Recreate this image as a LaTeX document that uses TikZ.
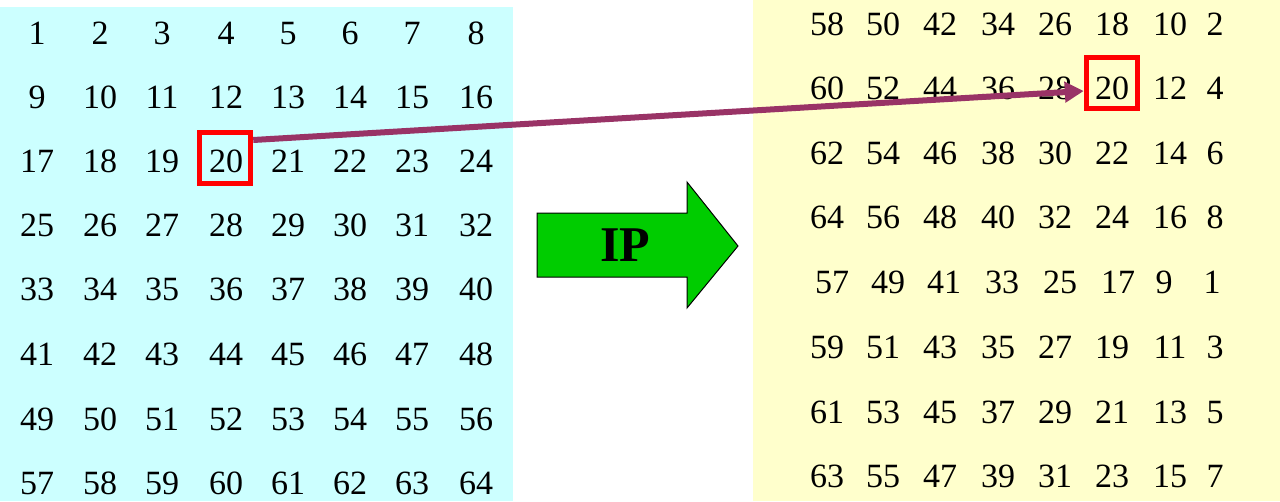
\documentclass[tikz,border=0pt]{standalone}
\usepackage{fontspec}
\setmainfont{Liberation Serif}
\usetikzlibrary{arrows.meta}
\definecolor{cyanbg}{HTML}{CCFFFF}
\definecolor{yellowbg}{HTML}{FFFFCC}
\definecolor{plum}{HTML}{993366}
\definecolor{ipgreen}{HTML}{00CC00}
\begin{document}
\begin{tikzpicture}[x=1pt,y=-1pt,
  num/.style={anchor=base,inner sep=0pt,font=\fontsize{34}{40}\selectfont},
  redbox/.style={draw=red,line width=5.5pt,minimum width=51pt,minimum height=51pt,inner sep=0pt},
  link/.style={draw=plum,line width=6pt,-{Triangle[length=19pt,width=20pt]}},
  blockarrow/.style={fill=ipgreen,draw=black,line width=1pt},
  iplabel/.style={inner sep=0pt,font=\fontsize{50}{60}\selectfont\bfseries}]
\useasboundingbox (0,0) rectangle (1280,501);
% panels
\fill[cyanbg] (0,7) rectangle (513,501);
\fill[yellowbg] (753,0) rectangle (1280,501);
% left grid
\def\lx{{37,100,162,226,288,350,412,476}}
\def\ly{{44,108,172,236,300,365,430,494}}
\foreach \r in {0,...,7}{
  \foreach \c in {0,...,7}{
    \pgfmathtruncatemacro\n{8*\r+\c+1}
    \pgfmathsetmacro\xx{\lx[\c]}
    \pgfmathsetmacro\yy{\ly[\r]}
    \node[num] (L\n) at (\xx,\yy) {\n};
  }
}
% right grid
\def\rx{{827,883,940,998,1055,1112,1170,1215}}
\def\rxfive{{832,888,944,1002,1060,1118,1164,1212}}
\def\ry{{35,99,164,228,293,358,423,487}}
\foreach \row [count=\r from 0] in {{58,50,42,34,26,18,10,2},{60,52,44,36,28,20,12,4},{62,54,46,38,30,22,14,6},{64,56,48,40,32,24,16,8},{57,49,41,33,25,17,9,1},{59,51,43,35,27,19,11,3},{61,53,45,37,29,21,13,5},{63,55,47,39,31,23,15,7}}{
  \foreach \v [count=\c from 0] in \row {
    \pgfmathsetmacro\xx{(\r==4 ? \rxfive[\c] : \rx[\c])}
    \pgfmathsetmacro\yy{\ry[\r]}
    \node[num] (R\v) at (\xx,\yy) {\v};
  }
}
% red boxes
\node[redbox] (Lbox) at (225,158) {};
\node[redbox] (Rbox) at (1112,83) {};
% connector
\draw[link] ([yshift=18pt]Lbox.east) -- ([yshift=-8pt]Rbox.west);
% IP block arrow
\draw[blockarrow] (537,213) -- (687,213) -- (687,182) -- (738,246) -- (687,308) -- (687,277) -- (537,277) -- cycle;
\node[iplabel] (ip) at (625,245) {IP};
\end{tikzpicture}
\end{document}
